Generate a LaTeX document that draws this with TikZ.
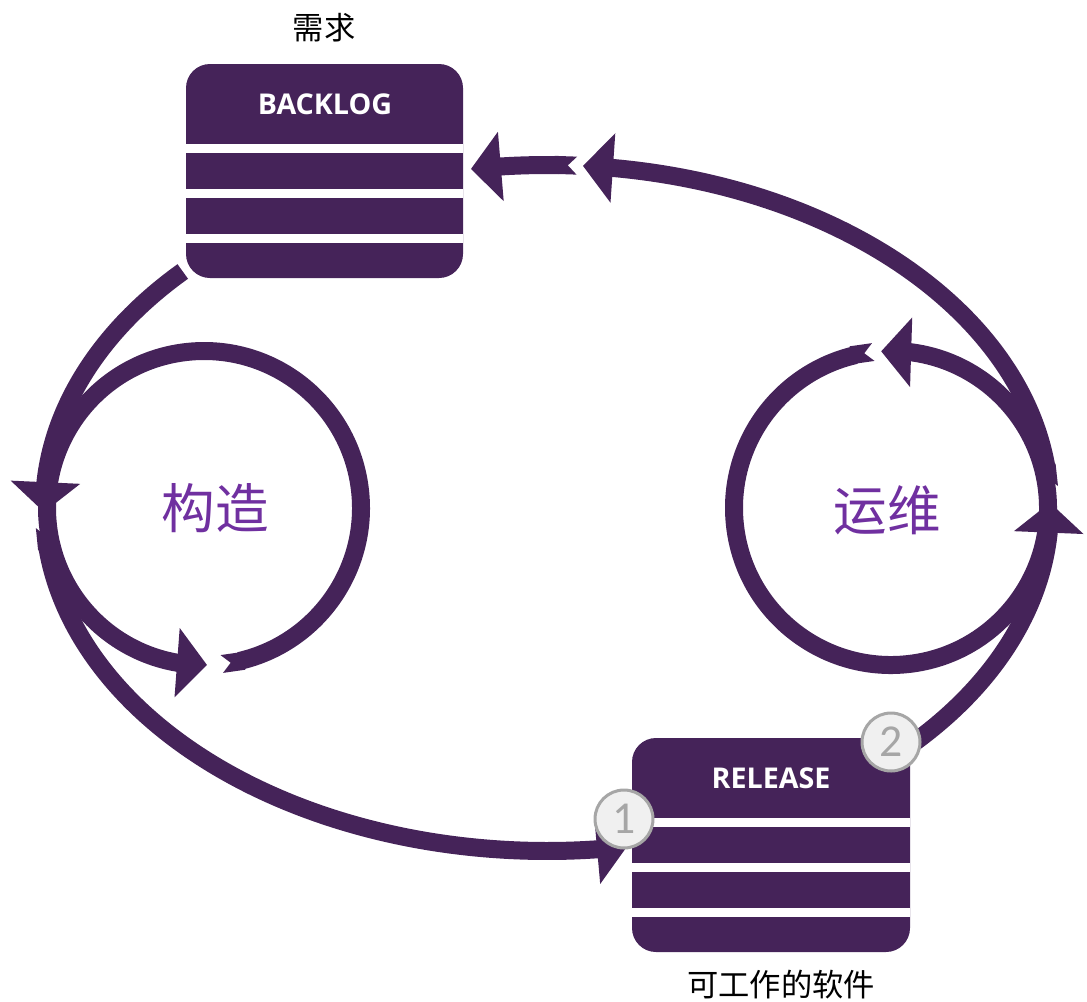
\documentclass[tikz,border=0pt]{standalone}
\usepackage{fontspec}
\setmainfont{Open Sans}
\newfontfamily\cjk{Noto Sans CJK SC}
\newfontfamily\numfont{Carlito}
\usetikzlibrary{arrows.meta,bending}
\definecolor{plum}{RGB}{69,35,89}
\definecolor{orchid}{RGB}{112,48,160}
\definecolor{ringgray}{RGB}{166,166,166}
\definecolor{ringfill}{RGB}{240,240,240}
\tikzset{
  flow/.style={plum, line width=0.36cm,
    {Triangle Cap[reversed]}-{Triangle[length=0.6cm,width=1.36cm]}},
  head/.style={plum, line width=0.36cm, -{Triangle[length=0.6cm,width=1.36cm]}},
  ring/.style={circle, fill=ringfill, draw=ringgray, line width=0.06cm,
    minimum size=1.16cm, inner sep=0pt, text=ringgray,
    font=\numfont\fontsize{26}{26}\selectfont},
  title/.style={text=white, font=\bfseries\fontsize{16.3}{16}\selectfont},
  caption/.style={font=\cjk\fontsize{17.8}{18}\selectfont},
  phase/.style={text=orchid, font=\cjk\fontsize{30.5}{31}\selectfont}
}
\begin{document}
\begin{tikzpicture}[x=0.02cm, y=-0.02cm]
   \useasboundingbox (0,0) rectangle (1087,1001);
   \draw[head] (547,508) ++(223.6:503 and 343)
      arc[start angle=223.6, end angle=179.3, x radius=503, y radius=343];
   \draw[flow] (547,508) ++(176.8:503 and 343)
      arc[start angle=176.8, end angle=80.85, x radius=503, y radius=343];
   \draw[head] (547,508) ++(45:503 and 343)
      arc[start angle=45, end angle=-0.9, x radius=503, y radius=343];
   \draw[flow] (547,508) ++(-3.5:503 and 343)
      arc[start angle=-3.5, end angle=-85.9, x radius=503, y radius=343];
   \draw[flow] (547,508) ++(-86.6:503 and 343)
      arc[start angle=-86.6, end angle=-98.7, x radius=503, y radius=343];
   \draw[flow] (204,508) ++(83.5:157)
      arc[start angle=83.5, end angle=-271.1, radius=157];
   \draw[flow] (891,508) ++(263.5:157)
      arc[start angle=263.5, end angle=-93.6, radius=157];
   \draw[white, line width=0.2cm, rounded corners=0.48cm] (186,64) rectangle (463,278);
   \fill[plum, rounded corners=0.48cm] (186,64) rectangle (463,278);
   \fill[white] (186,144) rectangle (463,153);
   \fill[white] (186,189) rectangle (463,198);
   \fill[white] (186,234) rectangle (463,243);
   \draw[white, line width=0.2cm, rounded corners=0.48cm] (632,738) rectangle (910,952);
   \fill[plum, rounded corners=0.48cm] (632,738) rectangle (910,952);
   \fill[white] (632,818) rectangle (910,827);
   \fill[white] (632,863) rectangle (910,872);
   \fill[white] (632,908) rectangle (910,917);
   \node[title] (backlog) at (325,104) {BACKLOG};
   \node[title] (release) at (771,778) {RELEASE};
   \node[caption] (need) at (324,28) {需求};
   \node[caption] (software) at (781,985) {可工作的软件};
   \node[phase] (build) at (215,508) {构造};
   \node[phase] (operate) at (887,510) {运维};
   \node[ring] (one) at (624,819) {1};
   \node[ring] (two) at (891,742) {2};
\end{tikzpicture}
\end{document}
